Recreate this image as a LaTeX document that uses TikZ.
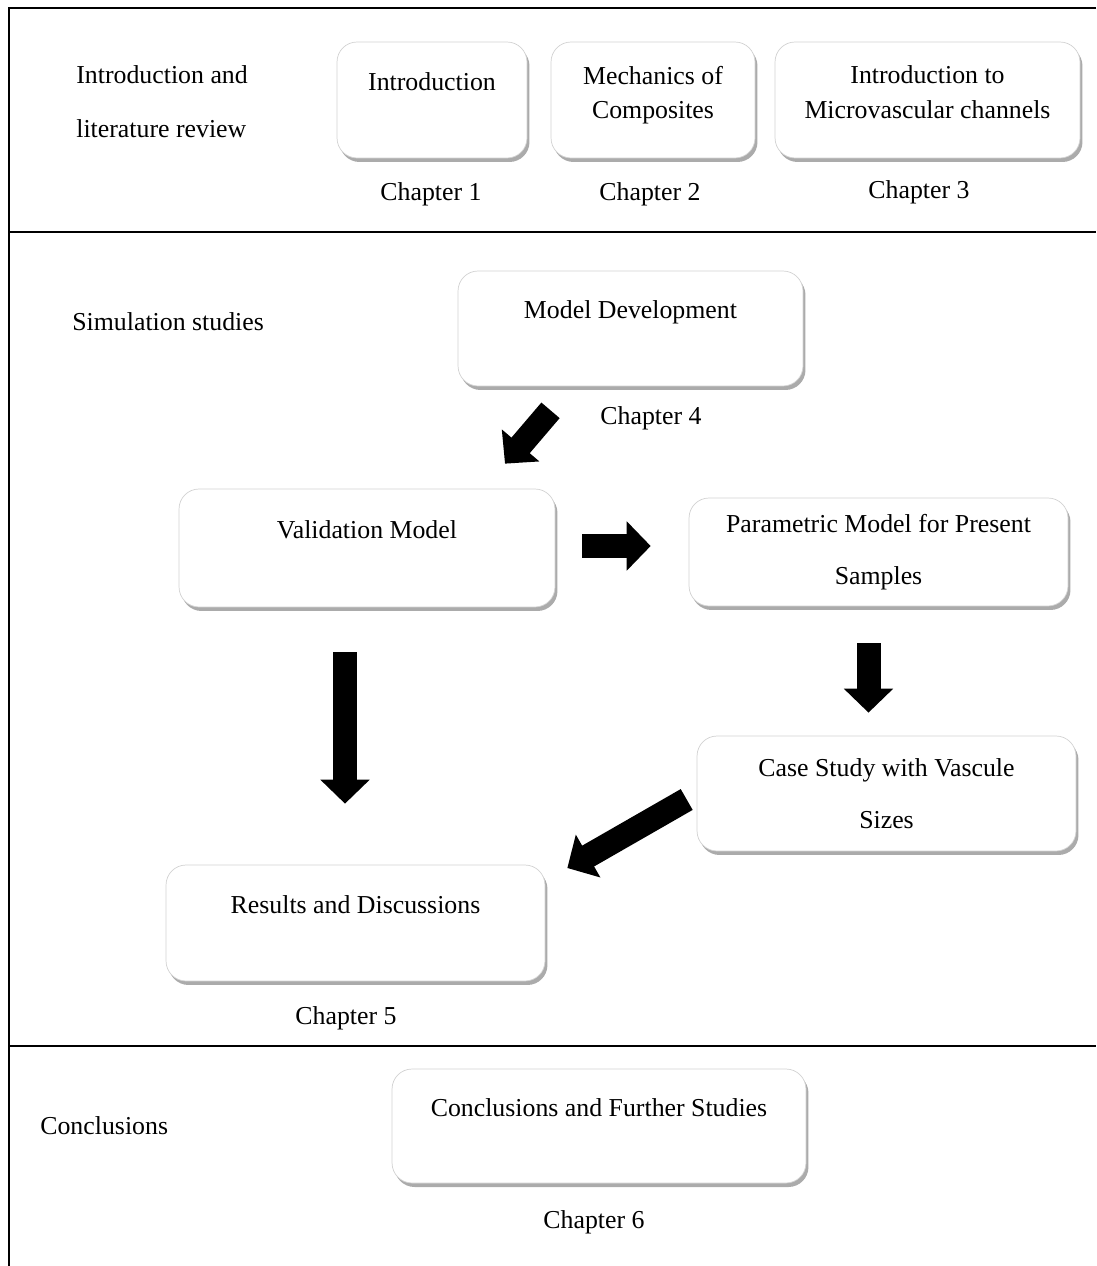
\documentclass[tikz,border=0pt]{standalone}
\usepackage{fontspec}
\setmainfont{Liberation Serif}
\usetikzlibrary{arrows.meta, positioning, shadows, calc}

\begin{document}
\begin{tikzpicture}[
    x=0.02cm, y=-0.02cm,
    font=\fontsize{14.7}{17.6}\selectfont,
    chapbox/.style={rectangle, draw=gray!35, fill=white, rounded corners=0.4cm, inner sep=0pt, align=center,
        drop shadow={shadow xshift=0.05cm, shadow yshift=-0.08cm, fill=black!55, opacity=0.6}},
    topbox/.style={chapbox, text height=10pt, text depth=21pt},
    fatarrow/.style={line width=0.48cm, -{Triangle[width=0.96cm, length=0.48cm]}},
    sidelabel/.style={anchor=west, align=left, inner sep=0pt},
    framebar/.style={line width=0.04cm},
]
    \useasboundingbox (0,0) rectangle (1096,1266);

    % frame
    \draw[framebar] (1096,8) -- (9,8) -- (9,1266);
    \draw[framebar] (9,232) -- (1096,232);
    \draw[framebar] (9,1046) -- (1096,1046);

    % section titles
    \node[sidelabel] (litrev) at (76,102) {Introduction and\\[13pt]literature review};
    \node[sidelabel] (simstud) at (72,322) {Simulation studies};
    \node[sidelabel] (concl) at (40,1126) {Conclusions};

    % chapters 1-3
    \node[topbox, minimum width=3.8cm, minimum height=2.32cm] (intro) at (432,100) {Introduction};
    \node[chapbox, minimum width=4.08cm, minimum height=2.32cm] (mech) at (653,100) {Mechanics of\\[2pt]Composites\\[-8.7pt]\mbox{}};
    \node[chapbox, minimum width=6.1cm, minimum height=2.32cm] (micro) at (927.5,100) {Introduction to\\[2pt]Microvascular channels\\[-8.7pt]\mbox{}};

    \node (ch1) at (431,194) {Chapter 1};
    \node (ch2) at (650,194) {Chapter 2};
    \node (ch3) at (919,192) {Chapter 3};

    % simulation studies
    \node[topbox, minimum width=6.9cm, minimum height=2.3cm] (moddev) at (630.5,328.5) {Model Development};
    \node (ch4) at (651,418) {Chapter 4};

    \node[topbox, minimum width=7.52cm, minimum height=2.36cm] (valid) at (367,548) {Validation Model};
    \node[chapbox, minimum width=7.58cm, minimum height=2.16cm] (param) at (878.5,552) {Parametric Model for Present\\[12pt]Samples};
    \node[chapbox, minimum width=7.58cm, minimum height=2.3cm] (case) at (886.5,793.5) {Case Study with Vascule\\[12pt]Sizes};
    \node[topbox, minimum width=7.58cm, minimum height=2.32cm] (results) at (355.5,923) {Results and Discussions};
    \node (ch5) at (346,1018) {Chapter 5};

    \draw[fatarrow] ($(moddev.south)+(-80,24)$) -- ($(valid.north)+(138,-25)$);
    \draw[fatarrow] ($(valid.east)+(27,-2)$) -- ($(param.west)+(-38,-6)$);
    \draw[fatarrow] ($(param.south)+(-10,37)$) -- ($(case.north)+(-18,-23)$);
    \draw[fatarrow] ($(valid.south)+(-22,45)$) -- ($(results.north)+(-10.5,-61)$);
    \draw[fatarrow] ($(case.west)+(-10,6)$) -- ($(results.east)+(22,-55)$);

    % conclusions
    \node[topbox, minimum width=8.28cm, minimum height=2.28cm] (further) at (599,1126) {Conclusions and Further Studies};
    \node (ch6) at (594,1222) {Chapter 6};
\end{tikzpicture}
\end{document}
